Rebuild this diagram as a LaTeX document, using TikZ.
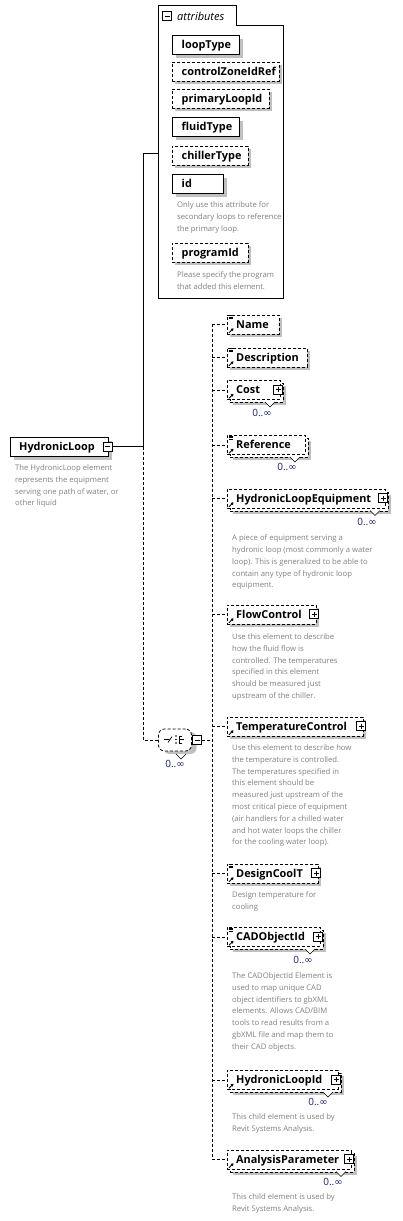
\documentclass[tikz,border=0pt]{standalone}
\usepackage{fontspec}
\setmainfont{Open Sans}
\newfontfamily\symfont{DejaVu Sans}
\usetikzlibrary{calc, shadows, arrows.meta}

\definecolor{descgray}{RGB}{128,128,128}
\definecolor{shadowgray}{RGB}{192,192,192}
\definecolor{occblue}{RGB}{20,30,110}

\begin{document}
\begin{tikzpicture}[x=1pt, y=-1pt,
    every node/.style={inner sep=0pt},
    shd/.style={drop shadow={shadow xshift=3pt, shadow yshift=-3pt, fill=shadowgray, opacity=1}},
    attrbox/.style={draw, line width=1.1pt, fill=white, anchor=north west, minimum height=19pt, shd},
    optattr/.style={attrbox, line width=0.8pt, dash pattern=on 3pt off 2pt},
    elem/.style={draw, line width=0.8pt, dash pattern=on 3pt off 2pt, fill=white, anchor=north west, minimum height=19pt},
    lbl/.style={font=\fontsize{10.9}{13}\selectfont\bfseries, anchor=base west},
    desc/.style={font=\fontsize{7.7}{11.8}\selectfont, text=descgray, align=left, anchor=north west},
    occ/.style={font=\fontsize{10}{12}\selectfont, text=occblue},
    conn/.style={line width=0.8pt},
    dconn/.style={conn, dash pattern=on 3pt off 2pt},
    minusicon/.style={draw, fill=white, line width=0.7pt, minimum size=9pt,
      path picture={\draw[line width=0.7pt] ([xshift=2pt]path picture bounding box.west) -- ([xshift=-2pt]path picture bounding box.east);}},
    plusicon/.style={draw, fill=white, line width=0.7pt, minimum size=9pt,
      path picture={\draw[line width=0.7pt] ([xshift=2pt]path picture bounding box.west) -- ([xshift=-2pt]path picture bounding box.east)
        ([yshift=-2pt]path picture bounding box.north) -- ([yshift=2pt]path picture bounding box.south);}},
    pics/refmark/.style={code={\draw[line width=0.9pt, -{Triangle[length=2.5pt, width=3pt]}] (2,-1.5) -- (6.5,-6);}},
    pics/textmark/.style={code={\draw[line width=0.5pt] (1.5,1) -- (6,1) (1.5,2.5) -- (6,2.5) (1.5,4) -- (6,4);}},
    pics/occmark/.style={code={\draw[line width=0.5pt, fill=white] (-5,0) -- (0,5) -- (5,0);}}
  ]
  \useasboundingbox (0,0) rectangle (402,1221);

  % attributes group
  \draw[line width=1pt, fill=white] (158,298) -- (158,5) -- (236,5) -- (236,25) -- (283,25) -- (283,298) -- cycle;
  \coordinate (attrin) at (158,153);
  \node[minusicon] (attrm) at (167,16) {};
  \node[font=\fontsize{11}{13}\selectfont\itshape, anchor=base west] (attrt) at (177,20) {attributes};

  \node[attrbox, minimum width=67pt] (looptype) at (172,35) {};
  \node[lbl] (looptypet) at (181.5,48.5) {loopType};
  \node[optattr, minimum width=107pt] (zoneref) at (172,62) {};
  \node[lbl] (zonereft) at (181.5,75.5) {controlZoneIdRef};
  \node[optattr, minimum width=97pt] (primid) at (172,89) {};
  \node[lbl] (primidt) at (181.5,102.5) {primaryLoopId};
  \node[attrbox, minimum width=67pt] (fluid) at (172,117) {};
  \node[lbl] (fluidt) at (181.5,130.5) {fluidType};
  \node[optattr, minimum width=76pt] (chiller) at (172,146) {};
  \node[lbl] (chillert) at (181.5,159.5) {chillerType};
  \node[attrbox, minimum width=51pt] (idattr) at (172,174) {};
  \node[lbl] (idattrt) at (181.5,187.5) {id};
  \node[desc] (idattrd) at (177,201.5) {Only use this attribute for\\secondary loops to reference\\the primary loop.};
  \node[optattr, minimum width=76pt] (progid) at (172,243) {};
  \node[lbl] (progidt) at (181.5,256.5) {programId};
  \node[desc] (progidd) at (177,271.5) {Please specify the program\\that added this element.};

  % root element
  \node[attrbox, line width=1.3pt, minimum width=98pt] (hloop) at (10,437) {};
  \node[lbl] (hloopt) at (19,450.5) {HydronicLoop};
  \node[minusicon] (hloopm) at (107.5,446.5) {};
  \node[desc] (hloopd) at (15,464.5) {The HydronicLoop element\\represents the equipment\\serving one path of water, or\\other liquid};

  % sequence
  \node[draw, line width=0.8pt, dash pattern=on 3pt off 2pt, fill=white, rounded corners=6pt,
    minimum width=33pt, minimum height=22pt,
    drop shadow={shadow xshift=5pt, shadow yshift=-3pt, fill=shadowgray, opacity=1}] (seq) at (175,740) {};
  \pic at (181,754) {occmark};
  \draw[line width=0.7pt] (164,739.5) -- (169,739.5) (168,742.5) -- (172,736.5);
  \fill (176,736) circle (0.8) (176,739.5) circle (0.8) (176,743) circle (0.8);
  \draw[line width=0.7pt] (179,736) -- (179,743) (179,736) -- (182,736) (179,739.5) -- (184,739.5) (179,743) -- (182,743);
  \node[minusicon] (seqm) at (197,740) {};
  \node[occ] (seqo) at (175,764) {0..{\symfont ∞}};
  \coordinate (trunk) at (143,446.5);
  \coordinate (spine) at (212,740);

  % children
  \node[elem, shd, minimum width=52pt] (name) at (227,314.5) {};
  \node[lbl] (namet) at (236,328) {Name};
  \pic at (name.north west) {textmark};
  \pic at (name.south west) {refmark};

  \node[elem, shd, minimum width=80pt] (descr) at (227,347.5) {};
  \node[lbl] (descrt) at (236,361) {Description};
  \pic at (descr.north west) {textmark};
  \pic at (descr.south west) {refmark};

  \node[elem, shd, minimum width=53pt] (costb) at (230,383) {};
  \pic at (270,402) {occmark};
  \node[elem, minimum width=53pt] (cost) at (227,380) {};
  \node[lbl] (costt) at (236,393.5) {Cost};
  \node[plusicon] (costp) at (278,389.5) {};
  \pic at (cost.south west) {refmark};
  \node[occ] (costo) at (262,413) {0..{\symfont ∞}};

  \node[elem, shd, minimum width=78pt] (refb) at (230,438) {};
  \pic at (295,457) {occmark};
  \node[elem, minimum width=78pt] (ref) at (227,435) {};
  \node[lbl] (reft) at (236,448.5) {Reference};
  \pic at (ref.north west) {textmark};
  \pic at (ref.south west) {refmark};
  \node[occ] (refo) at (287,467) {0..{\symfont ∞}};

  \node[elem, shd, minimum width=158pt] (equipb) at (230,491.5) {};
  \pic at (375,510.5) {occmark};
  \node[elem, minimum width=158pt] (equip) at (227,488.5) {};
  \node[lbl] (equipt) at (236,502) {HydronicLoopEquipment};
  \node[plusicon] (equipp) at (383,498) {};
  \pic at (equip.south west) {refmark};
  \node[occ] (equipo) at (367,522) {0..{\symfont ∞}};
  \node[desc] (equipd) at (232,534.5) {A piece of equipment serving a\\hydronic loop (most commonly a water\\loop). This is generalized to be able to\\contain any type of hydronic loop\\equipment.};

  \node[elem, shd, minimum width=89pt] (flow) at (227,604.5) {};
  \node[lbl] (flowt) at (236,618) {FlowControl};
  \node[plusicon] (flowp) at (314,614) {};
  \pic at (flow.south west) {refmark};
  \node[desc] (flowd) at (232,633.5) {Use this element to describe\\how the fluid flow is\\controlled. The temperatures\\specified in this element\\should be measured just\\upstream of the chiller.};

  \node[elem, shd, minimum width=136pt] (temp) at (227,716.5) {};
  \node[lbl] (tempt) at (236,730) {TemperatureControl};
  \node[plusicon] (tempp) at (361,726) {};
  \pic at (temp.south west) {refmark};
  \node[desc] (tempd) at (232,744.5) {Use this element to describe how\\the temperature is controlled.\\The temperatures specified in\\this element should be\\measured just upstream of the\\most critical piece of equipment\\(air handlers for a chilled water\\and hot water loops the chiller\\for the cooling water loop).};

  \node[elem, shd, minimum width=91pt] (cool) at (227,863.5) {};
  \node[lbl] (coolt) at (236,877) {DesignCoolT};
  \node[plusicon] (coolp) at (316,873) {};
  \pic at (cool.north west) {textmark};
  \pic at (cool.south west) {refmark};
  \node[desc] (coold) at (232,891.5) {Design temperature for\\cooling};

  \node[elem, shd, minimum width=93pt] (cadb) at (230,930) {};
  \pic at (310,949) {occmark};
  \node[elem, minimum width=93pt] (cad) at (227,927) {};
  \node[lbl] (cadt) at (236,940.5) {CADObjectId};
  \node[plusicon] (cadp) at (318,936.5) {};
  \pic at (cad.north west) {textmark};
  \pic at (cad.south west) {refmark};
  \node[occ] (cado) at (303,960) {0..{\symfont ∞}};
  \node[desc] (cadd) at (232,972.5) {The CADObjectId Element is\\used to map unique CAD\\object identifiers to gbXML\\elements. Allows CAD/BIM\\tools to read results from a\\gbXML file and map them to\\their CAD objects.};

  \node[elem, shd, minimum width=111pt] (loopidb) at (230,1073) {};
  \pic at (328,1092) {occmark};
  \node[elem, minimum width=111pt] (loopid) at (227,1070) {};
  \node[lbl] (loopidt) at (236,1083.5) {HydronicLoopId};
  \node[plusicon] (loopidp) at (336,1079.5) {};
  \pic at (loopid.south west) {refmark};
  \node[occ] (loopido) at (318,1102) {0..{\symfont ∞}};
  \node[desc] (loopidd) at (232,1113.5) {This child element is used by\\Revit Systems Analysis.};

  \node[elem, shd, minimum width=124pt] (anab) at (230,1152.5) {};
  \pic at (341,1171.5) {occmark};
  \node[elem, minimum width=124pt] (ana) at (227,1149.5) {};
  \node[lbl] (anat) at (236,1163) {AnalysisParameter};
  \node[plusicon] (anap) at (349,1159) {};
  \pic at (ana.south west) {refmark};
  \node[occ] (anao) at (333,1182) {0..{\symfont ∞}};
  \node[desc] (anad) at (232,1193.5) {This child element is used by\\Revit Systems Analysis.};

  % connectors
  \draw[conn] (hloopm.east) -- (trunk);
  \draw[conn] (trunk) |- (attrin);
  \draw[dconn] (trunk) |- (seq.west);
  \draw[dconn] (seq.east) -- (seqm.west);
  \draw[dconn] (seqm.east) -- (spine);
  \draw[dconn] (spine |- name.west) -- (spine |- ana.west);
  \foreach \c in {name, descr, cost, ref, equip, flow, temp, cool, cad, loopid, ana}
    \draw[dconn] (spine |- \c.west) -- (\c.west);
\end{tikzpicture}
\end{document}
